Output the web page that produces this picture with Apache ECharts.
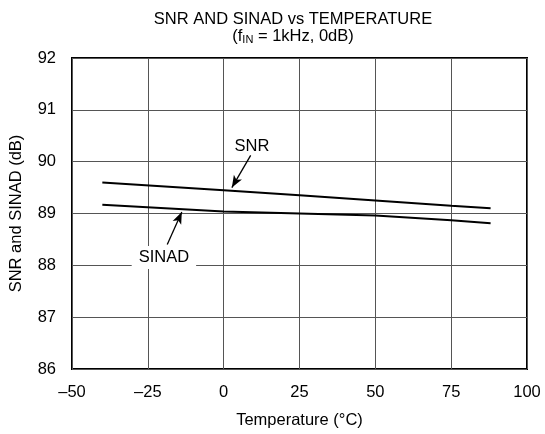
<!DOCTYPE html>
<html>
<head>
<meta charset="utf-8">
<script src="https://cdn.jsdelivr.net/npm/echarts@6/dist/echarts.min.js"></script>
<style>
  html, body { margin: 0; padding: 0; background: #fff; }
  #container { width: 545px; height: 434px; }
</style>
</head>
<body>
<div id="container"></div>
<script>
var temperature = [-40, 0, 25, 50, 75, 88];
var snr = [89.6, 89.45, 89.35, 89.25, 89.15, 89.1];
var sinad = [89.17, 89.04, 89.0, 88.96, 88.87, 88.81];

// annotations: label position [temp, dB], arrow [from, to]
var snrLabel = [9.3, 90.3];
var snrArrow = [[8.9, 90.12], [2.7, 89.5]];
var sinadLabel = [-19.7, 88.15];
var sinadArrow = [[-18.6, 88.4], [-13.8, 89.03]];

var fontName = 'Liberation Sans';
var fs = 16.5;

function pairs(xs, ys) {
	return xs.map(function (x, i) { return [x, ys[i]]; });
}

var dom = document.getElementById("container");
var myChart = echarts.init(dom);

var option = {
	animation: false,
	textStyle: { fontFamily: fontName },
	title: {
		text: 'SNR AND SINAD vs TEMPERATURE\n{p|(f}{sub|IN}{p| = 1kHz, 0dB)}',
		left: 288,
		top: 6,
		textAlign: 'center',
		textStyle: {
			fontFamily: fontName,
			fontSize: fs,
			fontWeight: 'normal',
			color: '#000',
			lineHeight: 17,
			rich: {
				p: { fontFamily: fontName, fontSize: fs, color: '#000', lineHeight: 17 },
				sub: { fontFamily: fontName, fontSize: 11, color: '#000', verticalAlign: 'bottom', lineHeight: 12, padding: [7, 0, 0, 0] }
			}
		}
	},
	grid: {
		left: 72,
		right: 18,
		top: 58,
		bottom: 65,
		show: true,
		borderColor: '#000',
		borderWidth: 2
	},
	xAxis: {
		type: 'value',
		min: -50,
		max: 100,
		interval: 25,
		name: 'Temperature (°C)',
		nameLocation: 'middle',
		nameGap: 43,
		nameTextStyle: { fontFamily: fontName, fontSize: fs, color: '#000' },
		axisLine: { show: false },
		axisTick: { show: false },
		axisLabel: {
			margin: 15,
			fontFamily: fontName,
			fontSize: fs,
			color: '#000',
			formatter: function (v) { return String(v).replace('-', '\u2013'); }
		},
		splitLine: { lineStyle: { color: '#555', width: 1 } }
	},
	yAxis: {
		type: 'value',
		min: 86,
		max: 92,
		interval: 1,
		name: 'SNR and SINAD (dB)',
		nameLocation: 'middle',
		nameGap: 47,
		nameTextStyle: { fontFamily: fontName, fontSize: fs, color: '#000' },
		axisLine: { show: false },
		axisTick: { show: false },
		axisLabel: {
			margin: 16,
			fontFamily: fontName,
			fontSize: fs,
			color: '#000'
		},
		splitLine: { lineStyle: { color: '#555', width: 1 } }
	},
	series: [
		{
			name: 'SNR',
			type: 'line',
			data: pairs(temperature, snr),
			showSymbol: false,
			lineStyle: { color: '#000', width: 2 },
			z: 3
		},
		{
			name: 'SINAD',
			type: 'line',
			data: pairs(temperature, sinad),
			showSymbol: false,
			lineStyle: { color: '#000', width: 2 },
			z: 3,
			markLine: {
				silent: true,
				symbol: ['none', 'arrow'],
				symbolSize: [7, 12],
				lineStyle: { color: '#000', width: 1.3, type: 'solid' },
				label: { show: false },
				data: [
					[{ coord: snrArrow[0] }, { coord: snrArrow[1] }],
					[{ coord: sinadArrow[0] }, { coord: sinadArrow[1] }]
				]
			}
		},
		{
			name: 'labels',
			type: 'scatter',
			symbolSize: 0,
			silent: true,
			z: 5,
			itemStyle: { opacity: 1 },
			data: [
				{ value: snrLabel, name: 'SNR' },
				{ value: sinadLabel, name: 'SINAD', label: { backgroundColor: '#fff', padding: [3, 7, 3, 7] } }
			],
			label: {
				show: true,
				position: 'inside',
				formatter: '{b}',
				fontFamily: fontName,
				fontSize: fs,
				color: '#000'
			}
		}
	]
};

myChart.setOption(option, true);
</script>
</body>
</html>
